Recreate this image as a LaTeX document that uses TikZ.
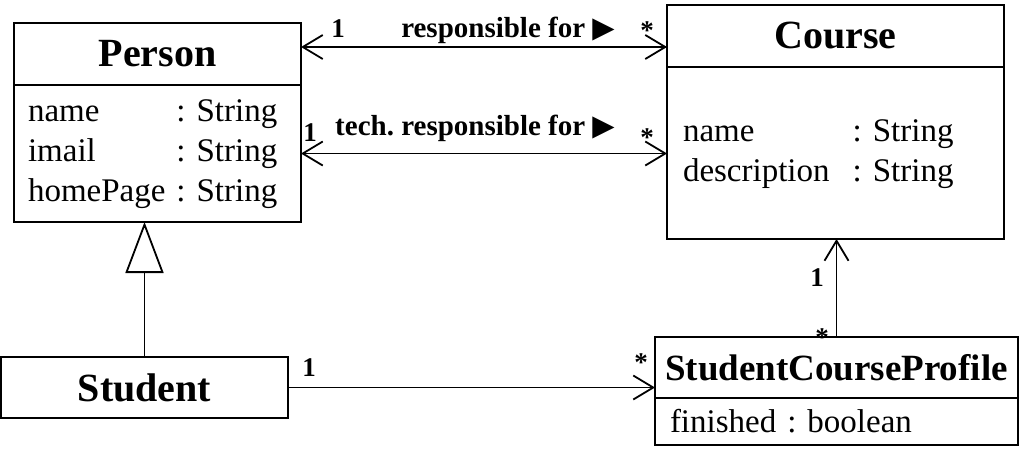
\documentclass[tikz,border=0pt]{standalone}
\usepackage{fontspec}
\setmainfont{Liberation Serif}
\newfontfamily\symbolfont{DejaVu Sans}
\usetikzlibrary{arrows.meta}
\usetikzlibrary{positioning}
\frenchspacing

\newcommand{\navmark}{{\symbolfont\fontsize{29}{29}\selectfont ▶}}

\begin{document}
\begin{tikzpicture}[x=1pt,y=-1pt,
every node/.style={outer sep=0},
classname/.style={draw,line width=1.8pt,inner sep=0,font=\fontsize{40}{44}\selectfont\bfseries},
classattr/.style={draw,line width=1.8pt,inner ysep=0,align=left,font=\fontsize{33}{40}\selectfont},
role/.style={anchor=base,inner sep=0,font=\fontsize{29}{32}\selectfont\bfseries},
mult/.style={anchor=base,inner sep=0,font=\fontsize{27}{30}\selectfont\bfseries},
assoc/.style={line width=1.8pt,-{Straight Barb[length=20pt,width=24pt]}},
biassoc/.style={line width=1.8pt,{Straight Barb[length=20pt,width=24pt]}-{Straight Barb[length=20pt,width=24pt]}},
inherit/.style={line width=1.8pt,-{Triangle[open,length=51pt,width=38pt]}}]
\useasboundingbox (0,0) rectangle (1021,450);

% classes
\node[classname,minimum width=287,minimum height=62,anchor=north west] (person) at (14,23) {Person};
\node[classattr,minimum width=287,minimum height=137,text width=259,inner xsep=14,below=0pt of person] (personattr)
  {\begin{tabular}{@{}l@{\ }l@{}}name&: String\\imail&: String\\homePage&: String\end{tabular}};
\node[classname,minimum width=337,minimum height=62,anchor=north west] (course) at (667,5) {Course};
\node[classattr,minimum width=337,minimum height=172,text width=305,inner xsep=16,below=0pt of course] (courseattr)
  {\begin{tabular}{@{}l@{\hspace{23pt}}l@{}}name&: String\\description&: String\end{tabular}};
\node[classname,minimum width=287,minimum height=61,anchor=north west] (student) at (1,357) {Student};
\node[classname,minimum width=363,minimum height=61,anchor=north west,font=\fontsize{37}{40}\selectfont\bfseries] (profile) at (655,337) {StudentCourseProfile};
\node[classattr,minimum width=363,minimum height=47,text width=333,inner xsep=15,below=0pt of profile] (profileattr) {finished : boolean};

% connectors
\coordinate (resp) at ([yshift=7pt]person.east);
\draw[biassoc] (resp) -- (resp -| course.west);
\draw[biassoc] (personattr.east) -- (personattr.east -| courseattr.west);
\draw[inherit] (student.north) -- (student.north |- personattr.south);
\draw[assoc] (student.east) -- (student.east -| profile.west);
\draw[assoc] (profile.north) -- (profile.north |- courseattr.south);

% labels
\node[mult] (m1) at (338,37) {1};
\node[role] (r1) at (508,37) {responsible for \navmark};
\node[mult] (m2) at (647,39) {*};
\node[mult] (m3) at (310,141) {1};
\node[role] (r2) at (475,135) {tech. responsible for \navmark};
\node[mult] (m4) at (647,146) {*};
\node[mult] (m5) at (309,376) {1};
\node[mult] (m6) at (641,371) {*};
\node[mult] (m7) at (817,286) {1};
\node[mult] (m8) at (822,346) {*};
\end{tikzpicture}
\end{document}
